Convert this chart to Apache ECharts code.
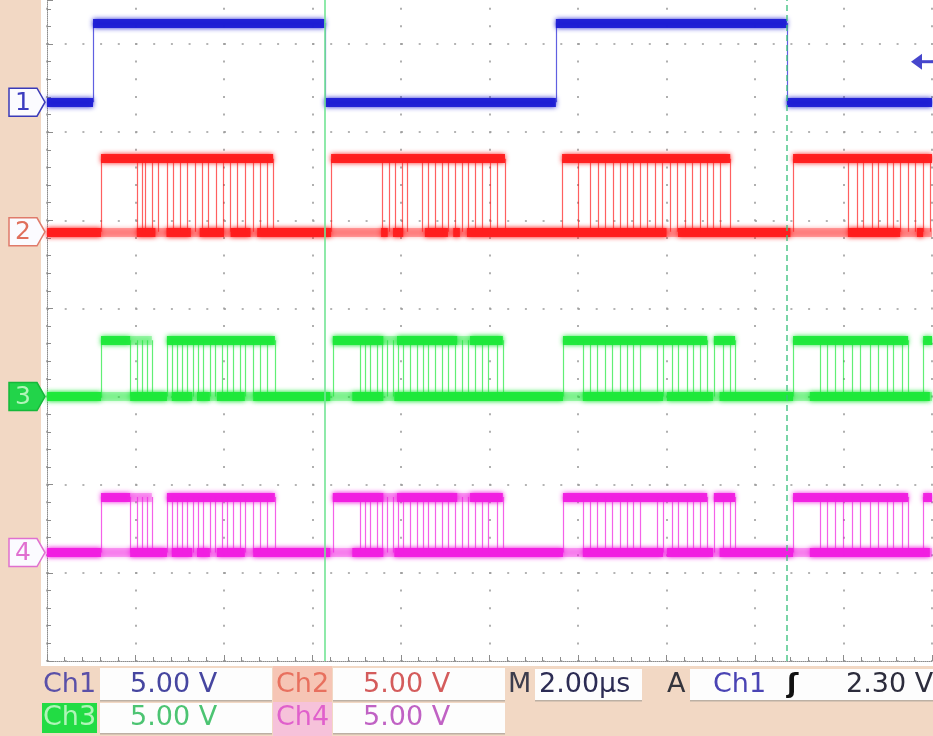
<!doctype html>
<html lang="en">
<head>
<meta charset="UTF-8"/>
<title>Oscilloscope capture</title>
<script src="https://cdn.jsdelivr.net/npm/echarts@6/dist/echarts.min.js"></script>
<style>
html, body { margin: 0; padding: 0; background: #fff; }
#main { width: 933px; height: 736px; }
</style>
</head>
<body>
<div id="main"></div>
<script type="text/javascript">
// time axis in µs (2 µs/div, 10 div), vertical axis in screen divisions from the bottom
var timeMin = 0, timeMax = 20, timeStep = 2;
var divMin = 0, divMax = 7.5, divStep = 1;

// settings read-out
var chNames = ['Ch1', 'Ch2', 'Ch3', 'Ch4'];
var chScales = ['5.00 V', '5.00 V', '5.00 V', '5.00 V'];
var timebase = '2.00µs';
var trigSource = 'Ch1';
var trigLevelV = 2.30;
var voltsPerDiv = 5;

// ground (low) and high levels of each trace, in divisions
var lowLevel = [6.34, 4.87, 3.00, 1.23];
var highLevel = [7.24, 5.70, 3.64, 1.86];

// cursors (µs)
var cursorTimes = [6.28, 16.72];

// Ch1 clock
var ch1Edges = [1.04, 6.28, 11.50, 16.72];
var ch1HighSegs = [[1.04, 6.28], [11.50, 16.72]];
var ch1LowSegs = [[0, 1.04], [6.28, 11.50], [16.72, 20]];

// Ch2 data bursts
var ch2Edges = [1.22, 2.03, 2.15, 2.21, 2.37, 2.51, 2.71, 2.85, 3.01, 3.16, 3.34, 3.50, 3.64, 3.82, 3.98, 4.14, 4.29, 4.47, 4.66, 4.81, 4.97, 5.11,
  6.42, 7.57, 7.73, 7.86, 8.02, 8.14, 8.47, 8.61, 8.77, 8.93, 9.06, 9.22, 9.38, 9.51, 9.67, 9.83, 10.01, 10.17, 10.35,
  11.64, 12.00, 12.27, 12.45, 12.61, 12.79, 12.95, 13.11, 13.24, 13.40, 13.56, 13.74, 13.90, 14.08, 14.24, 14.42, 14.58, 14.76, 14.92, 15.05, 15.21, 15.44,
  16.86, 18.10, 18.31, 18.44, 18.64, 18.78, 18.98, 19.12, 19.28, 19.46, 19.62, 19.80, 19.95];
var ch2HighSegs = [[1.22, 5.11], [6.42, 10.35], [11.64, 15.44], [16.86, 20]];
var ch2HighFaint = [];
var ch2LowSegs = [[0, 1.22], [2.03, 2.45], [2.70, 3.25], [3.45, 4.00], [4.15, 4.60], [4.75, 6.42], [7.55, 7.70], [7.82, 8.05],
  [8.54, 9.06], [9.18, 9.33], [9.49, 14.00], [14.26, 16.80], [18.10, 19.28], [19.66, 19.80]];

// Ch3 / Ch4 data bursts (same bus pattern)
var ch3Edges = [1.22, 1.88, 2.03, 2.15, 2.26, 2.37, 2.71, 2.82, 2.94, 3.05, 3.16, 3.30, 3.41, 3.53, 3.68, 3.80, 3.95, 4.07, 4.20, 4.36, 4.47, 4.66, 4.81, 4.97, 5.15,
  6.46, 7.07, 7.19, 7.30, 7.46, 7.57, 7.68, 7.82, 7.93, 8.05, 8.20, 8.36, 8.50, 8.61, 8.77, 8.93, 9.06, 9.22, 9.38, 9.51, 9.67, 9.83, 9.97, 10.17, 10.30,
  11.66, 12.11, 12.27, 12.43, 12.61, 12.77, 12.95, 13.11, 13.24, 13.40, 13.79, 13.92, 14.12, 14.26, 14.46, 14.60, 14.76, 14.92, 15.07, 15.28, 15.44, 15.55,
  16.86, 17.47, 17.63, 17.81, 17.99, 18.19, 18.37, 18.60, 18.78, 18.98, 19.12, 19.32, 19.46, 19.80];
var ch3HighSegs = [[1.22, 1.88], [2.71, 5.15], [6.46, 7.60], [7.91, 9.27], [9.56, 10.30], [11.66, 14.92], [15.07, 15.55], [16.86, 19.46], [19.80, 20]];
var ch3HighFaint = [[1.88, 2.37], [6.46, 10.30]];
var ch3LowSegs = [[0, 1.22], [1.88, 2.71], [2.82, 3.28], [3.39, 3.68], [3.84, 4.47], [4.66, 6.40], [6.90, 7.60], [7.85, 11.66],
  [12.11, 13.92], [14.01, 15.05], [15.20, 16.86], [17.24, 19.95]];
var ch4Edges = ch3Edges;
var ch4HighSegs = ch3HighSegs;
var ch4HighFaint = ch3HighFaint;
var ch4LowSegs = ch3LowSegs;

var traceColors = ['#1c1cd4', '#ff1c1c', '#1ee83a', '#f01ee0'];
var markerStroke = ['#3a3ab8', '#e07a6a', '#16b83a', '#e070d0'];
var markerText = ['#3c3cc0', '#e0705c', '#b0f5b8', '#e070d0'];
var peach = '#f2d8c4';
var font = '"DejaVu Sans", sans-serif';

var channels = [
  { edges: ch1Edges, high: ch1HighSegs, highFaint: [], low: ch1LowSegs, lowFaint: false },
  { edges: ch2Edges, high: ch2HighSegs, highFaint: ch2HighFaint, low: ch2LowSegs, lowFaint: true },
  { edges: ch3Edges, high: ch3HighSegs, highFaint: ch3HighFaint, low: ch3LowSegs, lowFaint: true },
  { edges: ch4Edges, high: ch4HighSegs, highFaint: ch4HighFaint, low: ch4LowSegs, lowFaint: true }
];

function segs(list, level) {
  return list.map(function (s) { return { coords: [[s[0], level], [s[1], level]] }; });
}
function edgeLines(list, lo, hi) {
  return list.map(function (t) { return { coords: [[t, lo], [t, hi]] }; });
}
function linesSeries(data, color, width, opacity, blur, z) {
  return {
    type: 'lines', coordinateSystem: 'cartesian2d', silent: true, z: z,
    data: data,
    lineStyle: { color: color, width: width, opacity: opacity, cap: 'butt', shadowBlur: blur, shadowColor: color }
  };
}

var series = [];
channels.forEach(function (ch, i) {
  var lo = lowLevel[i], hi = highLevel[i], c = traceColors[i];
  if (ch.lowFaint) series.push(linesSeries(segs([[timeMin, timeMax]], lo), c, 9, 0.35, 4, 3));
  if (ch.highFaint.length) series.push(linesSeries(segs(ch.highFaint, hi), c, 9, 0.35, 4, 3));
  series.push(linesSeries(edgeLines(ch.edges, lo, hi), c, 1.2, 0.7, 0, 4));
  series.push(linesSeries(segs(ch.low, lo), c, 9, 0.95, 5, 5));
  series.push(linesSeries(segs(ch.high, hi), c, 9, 0.95, 5, 5));
});

// cursors
series.push({
  type: 'lines', coordinateSystem: 'cartesian2d', silent: true, z: 8,
  data: cursorTimes.map(function (t, k) {
    return {
      coords: [[t, divMin], [t, divMax]],
      lineStyle: k === 0 ? { color: '#74e496', width: 1.8, type: 'solid', opacity: 0.9 }
                         : { color: '#3cc27e', width: 1.5, type: [6, 4], opacity: 0.9 }
    };
  })
});

// channel ground markers on the left edge
series.push({
  type: 'custom', clip: false, silent: true, z: 10,
  data: lowLevel.map(function (v, i) { return [timeMin, v, i]; }),
  renderItem: function (params, api) {
    var i = api.value(2);
    var y = api.coord([timeMin, api.value(1)])[1];
    var filled = i === 2;
    return {
      type: 'group',
      children: [
        { type: 'polygon', shape: { points: [[9, y - 14], [37, y - 14], [45, y], [37, y + 14], [9, y + 14]] },
          style: { fill: filled ? '#22d44a' : '#fbfbff', stroke: markerStroke[i], lineWidth: 1.5 } },
        { type: 'text', x: 23, y: y + 1,
          style: { text: String(i + 1), font: '25px ' + font, fill: markerText[i],
                   textAlign: 'center', align: 'center', textVerticalAlign: 'middle', verticalAlign: 'middle' } }
      ]
    };
  }
});

// trigger level arrow on the right edge
series.push({
  type: 'custom', clip: false, silent: true, z: 10,
  data: [[timeMax, lowLevel[0] + trigLevelV / voltsPerDiv]],
  renderItem: function (params, api) {
    var p = api.coord([api.value(0), api.value(1)]);
    var col = '#4646cc';
    return {
      type: 'group',
      children: [
        { type: 'polygon', shape: { points: [[p[0] - 21, p[1]], [p[0] - 10, p[1] - 8], [p[0] - 10, p[1] + 8]] }, style: { fill: col } },
        { type: 'line', shape: { x1: p[0] - 12, y1: p[1], x2: p[0] + 1, y2: p[1] }, style: { stroke: col, lineWidth: 3 } }
      ]
    };
  }
});

// read-out panel
function box(x, y, w, h, fill) {
  return { type: 'rect', shape: { x: x, y: y, width: w, height: h },
           style: { fill: fill, shadowColor: '#bcb0a4', shadowOffsetY: 1.5, shadowBlur: 0 }, silent: true };
}
function label(x, y, text, color, extra) {
  var st = { text: text, x: x, y: y, font: '27px ' + font, fill: color,
             textAlign: 'left', align: 'left', textVerticalAlign: 'middle', verticalAlign: 'middle' };
  if (extra) for (var k in extra) st[k] = extra[k];
  return { type: 'text', style: st, silent: true, z: 101 };
}
var row1 = 685, row2 = 718;
var graphic = [
  { type: 'rect', shape: { x: 0, y: 0, width: 41, height: 736 }, style: { fill: peach }, silent: true },
  { type: 'rect', shape: { x: 0, y: 666, width: 933, height: 70 }, style: { fill: peach }, silent: true },
  { type: 'rect', shape: { x: 273, y: 666, width: 59, height: 36 }, style: { fill: '#f6c5b5' }, silent: true },
  { type: 'rect', shape: { x: 273, y: 702, width: 59, height: 34 }, style: { fill: '#f6c2da' }, silent: true },
  { type: 'rect', shape: { x: 42, y: 703, width: 55, height: 30 }, style: { fill: '#22dc44' }, silent: true },
  box(100, 668, 172, 32, '#fdfdfd'),
  box(333, 668, 172, 32, '#fdfdfd'),
  box(535, 669, 107, 31, '#fdfdfd'),
  box(690, 669, 243, 31, '#fdfdfd'),
  box(100, 703, 172, 30, '#fdfdfd'),
  box(333, 703, 172, 30, '#fdfdfd'),
  label(43, row1, chNames[0], '#5a50a8'),
  label(130, row1, chScales[0], '#4646a0'),
  label(276, row1, chNames[1], '#e8705e'),
  label(363, row1, chScales[1], '#d45c5c'),
  label(508, row1, 'M', '#3c3c4c'),
  label(539, row1, timebase, '#2c2c54'),
  label(667, row1, 'A', '#34343c'),
  label(713, row1, trigSource, '#4a44b4'),
  label(787, row1, 'ʃ', '#111111', { font: 'bold 27px ' + font }),
  label(846, row1, trigLevelV.toFixed(2) + ' V', '#2c2c3c'),
  label(43, row2, chNames[2], '#b0f5b8'),
  label(130, row2, chScales[2], '#4cc472'),
  label(276, row2, chNames[3], '#e060cc'),
  label(363, row2, chScales[3], '#c062c4')
];

var myChart = echarts.init(document.getElementById('main'));
var option = {
  backgroundColor: '#ffffff',
  animation: false,
  grid: { left: 47, right: 1, top: 0, bottom: 75, show: false },
  xAxis: {
    type: 'value', min: timeMin, max: timeMax, interval: timeStep,
    axisLabel: { show: false },
    axisLine: { show: true, lineStyle: { color: '#8c8c8c', width: 1, type: [1, 1] } },
    axisTick: { show: true, inside: true, length: 6, lineStyle: { color: '#8c8c8c' } },
    minorTick: { show: true, splitNumber: 5, length: 4, lineStyle: { color: '#8c8c8c' } },
    splitLine: { show: true, lineStyle: { color: '#9c9c9c', width: 1.6, type: [2, 15.63], dashOffset: 9.9 } }
  },
  yAxis: {
    type: 'value', min: divMin, max: divMax, interval: divStep,
    axisLabel: { show: false },
    axisLine: { show: true, lineStyle: { color: '#8c8c8c', width: 1, type: [1, 1] } },
    axisTick: { show: true, inside: true, length: 6, lineStyle: { color: '#8c8c8c' } },
    minorTick: { show: true, splitNumber: 5, length: 4, lineStyle: { color: '#8c8c8c' } },
    splitLine: { show: true, showMaxLine: false, lineStyle: { color: '#9c9c9c', width: 1.6, type: [2, 15.7] } }
  },
  series: series,
  graphic: graphic
};
myChart.setOption(option);
</script>
</body>
</html>
